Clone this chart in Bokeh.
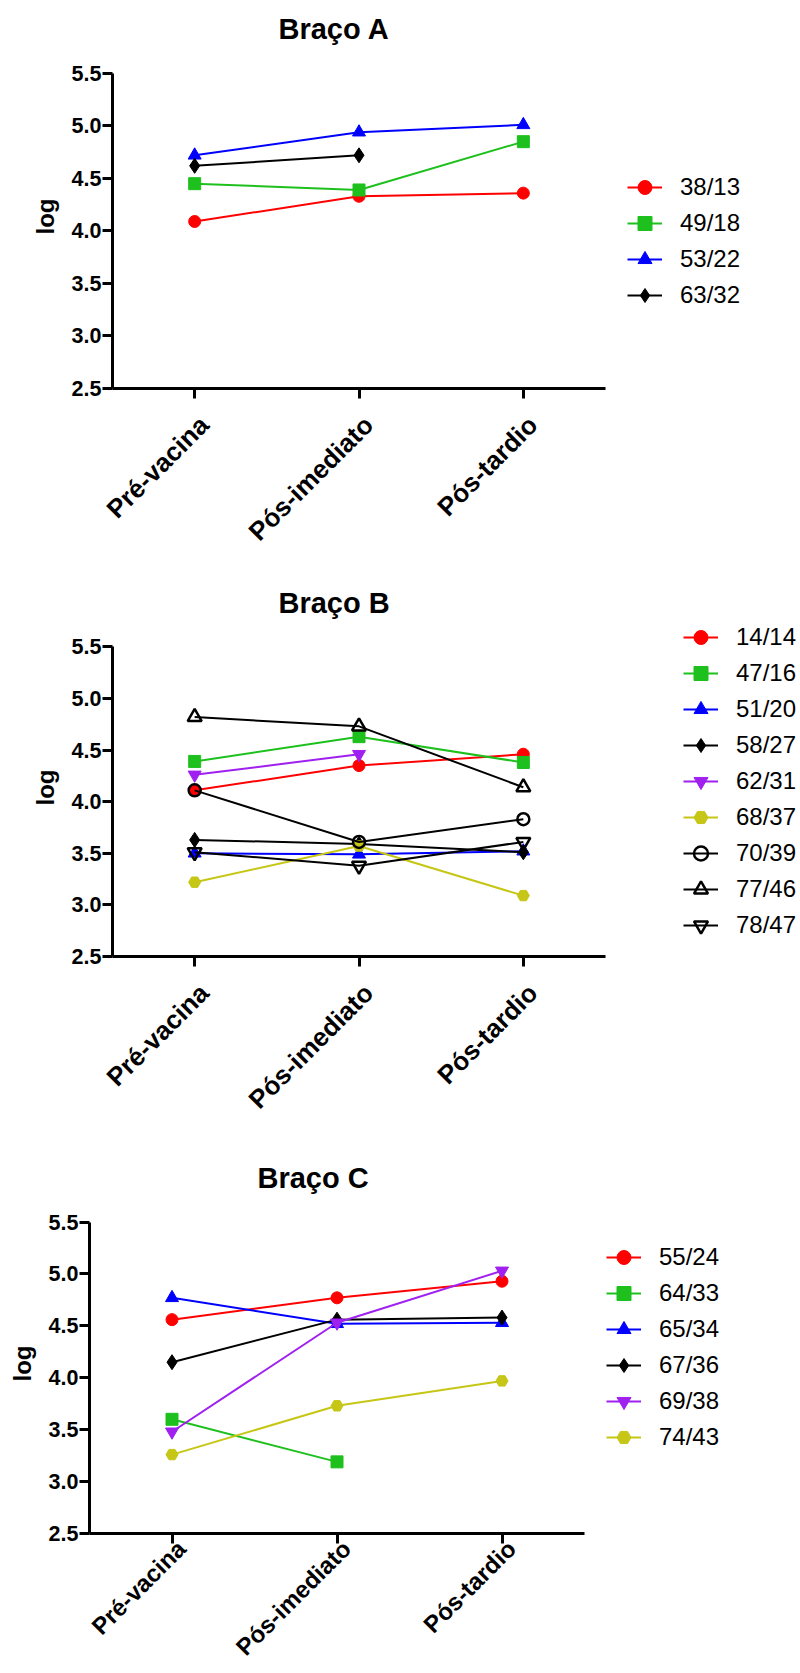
import math

from bokeh.embed import file_html
from bokeh.models import (ColumnDataSource, FixedTicker, Legend, LegendItem,
                          LinearAxis, PrintfTickFormatter, Range1d)
from bokeh.plotting import figure
from bokeh.resources import INLINE

nan = float("nan")

# ---- data -------------------------------------------------------------
timepoints = ["Pré-vacina", "Pós-imediato", "Pós-tardio"]
y_ticks = [2.5, 3.0, 3.5, 4.0, 4.5, 5.0, 5.5]

# Braço A
a_ids = ["38/13", "49/18", "53/22", "63/32"]
a_38_13 = [4.09, 4.33, 4.36]
a_49_18 = [4.45, 4.39, 4.85]
a_53_22 = [4.72, 4.94, 5.01]
a_63_32 = [4.62, 4.72, nan]

# Braço B
b_ids = ["14/14", "47/16", "51/20", "58/27", "62/31", "68/37", "70/39", "77/46", "78/47"]
b_14_14 = [4.11, 4.35, 4.46]
b_47_16 = [4.39, 4.63, 4.38]
b_51_20 = [3.50, 3.49, 3.52]
b_58_27 = [3.63, 3.59, 3.51]
b_62_31 = [4.26, 4.46, nan]
b_68_37 = [3.22, 3.57, 3.09]
b_70_39 = [4.11, 3.61, 3.83]
b_77_46 = [4.82, 4.73, 4.14]
b_78_47 = [3.51, 3.38, 3.61]

# Braço C
c_ids = ["55/24", "64/33", "65/34", "67/36", "69/38", "74/43"]
c_55_24 = [4.56, 4.77, 4.93]
c_64_33 = [3.60, 3.19, nan]
c_65_34 = [4.77, 4.52, 4.53]
c_67_36 = [4.15, 4.56, 4.58]
c_69_38 = [3.48, 4.53, 5.03]
c_74_43 = [3.26, 3.73, 3.97]

# ---- styles -----------------------------------------------------------
RED = "#FF0000"
GREEN = "#1EC01E"
BLUE = "#0000FF"
BLACK = "#000000"
PURPLE = "#A020F0"
OLIVE = "#C6C616"

# (colour, marker, filled, size)
red_circle = (RED, "circle", True, 12)
green_square = (GREEN, "square", True, 12)
blue_triangle = (BLUE, "triangle", True, 13)
black_diamond = (BLACK, "diamond", True, 15)
purple_down = (PURPLE, "inverted_triangle", True, 13)
olive_hex = (OLIVE, "hex", True, 12)
open_circle = (BLACK, "circle", False, 12)
open_triangle = (BLACK, "triangle", False, 14)
open_down = (BLACK, "inverted_triangle", False, 14)

FONT = "Liberation Sans"
Y_TOP = 5.775        # headroom above the 5.5 tick, up to the title


def make_panel(title, ids, series, styles, height, border_bottom, border_left,
               axis_px, title_offset, legend_xy, xlab_size, xlab_standoff):
    n = len(timepoints)
    frame_px = 800 - border_left
    unit_px = axis_px / n
    x_end = -0.5 + frame_px / unit_px      # frame runs on under the legend

    p = figure(width=800, height=height,
               x_range=Range1d(-0.5, x_end),
               y_range=Range1d(2.5, Y_TOP),
               output_backend="svg", toolbar_location=None,
               min_border_top=44, min_border_bottom=border_bottom,
               min_border_left=border_left, min_border_right=0)
    p.outline_line_color = None
    p.xgrid.visible = False
    p.ygrid.visible = False
    p.background_fill_color = "white"
    p.border_fill_color = "white"

    p.title.text = title
    p.title.align = "left"
    p.title.offset = title_offset
    p.title.vertical_align = "bottom"
    p.title.standoff = 0
    p.title.text_font = FONT
    p.title.text_font_size = "29px"
    p.title.text_font_style = "bold"
    p.title.text_color = "black"

    for ax in (p.xaxis, p.yaxis):
        ax.axis_line_width = 3
        ax.axis_line_color = "black"
        ax.major_tick_line_width = 3
        ax.major_tick_line_color = "black"
        ax.major_tick_in = 0
        ax.major_tick_out = 10
        ax.minor_tick_line_color = None
        ax.major_label_text_font = FONT
        ax.major_label_text_font_style = "bold"
        ax.major_label_text_color = "black"

    # y axis: 2.5 .. 5.5 only
    p.yaxis.bounds = (y_ticks[0], y_ticks[-1])
    p.yaxis.ticker = FixedTicker(ticks=y_ticks)
    p.yaxis.formatter = PrintfTickFormatter(format="%.1f")
    p.yaxis.major_label_text_font_size = "21.5px"
    p.yaxis.major_label_standoff = 1
    p.yaxis.axis_label = "log"
    p.yaxis.axis_label_text_font = FONT
    p.yaxis.axis_label_text_font_size = "24px"
    p.yaxis.axis_label_text_font_style = "bold"
    p.yaxis.axis_label_text_color = "black"
    p.yaxis.axis_label_standoff = 10

    # x axis: line and tick marks at the three time points
    positions = list(range(n))
    p.xaxis.bounds = (-0.5, n - 0.5)
    p.xaxis.ticker = FixedTicker(ticks=positions)
    p.xaxis.major_label_overrides = {i: "" for i in positions}
    p.xaxis.major_label_text_font_size = "0px"
    p.xaxis.major_label_standoff = 0

    # slanted time-point names, nudged right so each ends just past its tick
    nudge = 9.5 / unit_px
    label_pos = [i + nudge for i in positions]
    names = LinearAxis(ticker=FixedTicker(ticks=label_pos),
                       major_label_overrides={x: t for x, t in zip(label_pos, timepoints)},
                       axis_line_color=None, major_tick_line_color=None,
                       minor_tick_line_color=None,
                       major_tick_in=0, major_tick_out=0, minor_tick_out=0,
                       major_label_orientation=math.pi / 4,
                       major_label_standoff=xlab_standoff,
                       major_label_text_font=FONT,
                       major_label_text_font_style="bold",
                       major_label_text_font_size=xlab_size,
                       major_label_text_color="black")
    p.add_layout(names, "below")

    items = []
    for name, vals, (color, marker, filled, size) in zip(ids, series, styles):
        src = ColumnDataSource(dict(x=positions, y=vals))
        ln = p.line("x", "y", source=src, line_color=color, line_width=2)
        sc = p.scatter("x", "y", source=src, marker=marker, size=size,
                       line_color=color, line_width=2.5 if not filled else 1,
                       fill_color=color if filled else None,
                       fill_alpha=1 if filled else 0)
        items.append(LegendItem(label=name, renderers=[ln, sc]))

    legend = Legend(items=items, location=legend_xy,
                    glyph_width=35, glyph_height=36, label_standoff=18,
                    spacing=0, padding=0, margin=0,
                    border_line_color=None, background_fill_alpha=0,
                    label_text_font=FONT, label_text_font_size="24px",
                    label_text_color="black")
    p.add_layout(legend, "center")
    return p


pa = make_panel("Braço A", a_ids,
                [a_38_13, a_49_18, a_53_22, a_63_32],
                [red_circle, green_square, blue_triangle, black_diamond],
                height=574, border_bottom=186, border_left=112, axis_px=493,
                title_offset=166, legend_xy=(515, 75),
                xlab_size="26px", xlab_standoff=22)

pb = make_panel("Braço B", b_ids,
                [b_14_14, b_47_16, b_51_20, b_58_27, b_62_31,
                 b_68_37, b_70_39, b_77_46, b_78_47],
                [red_circle, green_square, blue_triangle, black_diamond,
                 purple_down, olive_hex, open_circle, open_triangle, open_down],
                height=575, border_bottom=193, border_left=112, axis_px=493,
                title_offset=166, legend_xy=(571, 13),
                xlab_size="26px", xlab_standoff=22)

pc = make_panel("Braço C", c_ids,
                [c_55_24, c_64_33, c_65_34, c_67_36, c_69_38, c_74_43],
                [red_circle, green_square, blue_triangle, black_diamond,
                 purple_down, olive_hex],
                height=524, border_bottom=137, border_left=89, axis_px=495,
                title_offset=168, legend_xy=(517, 78),
                xlab_size="24px", xlab_standoff=1)

# three independent roots stacked down the page, each keeping its own frame
with open("out.html", "w") as f:
    f.write(file_html([pa, pb, pc], INLINE))
